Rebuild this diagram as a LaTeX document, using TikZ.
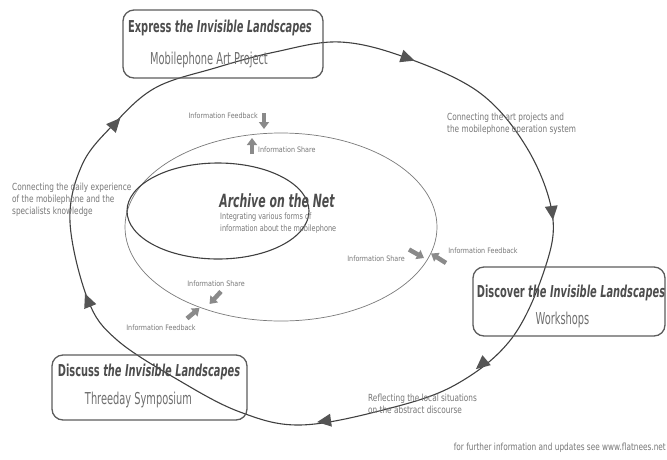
\documentclass[tikz,border=0pt]{standalone}
\usepackage{fontspec}
\setmainfont{DejaVu Sans}
\newfontfamily\titlefont{DejaVu Sans}[FakeStretch=0.6]
\newfontfamily\descfont{DejaVu Sans}[FakeStretch=0.75]
\newfontfamily\labelfont{DejaVu Sans}[FakeStretch=0.85]
\usetikzlibrary{arrows.meta}
\definecolor{boxgray}{HTML}{5C5C5C}
\definecolor{titlegray}{HTML}{4D4D4D}
\definecolor{subgray}{HTML}{6E6E6E}
\definecolor{descgray}{HTML}{767676}
\definecolor{loopgray}{HTML}{404040}
\definecolor{tipgray}{HTML}{555555}
\definecolor{midgray}{HTML}{7A7A7A}
\definecolor{arrowgray}{HTML}{8A8A8A}
\tikzset{
  box/.style={draw=boxgray, line width=1.3pt, rounded corners=11pt, inner sep=0pt},
  titletext/.style={font=\titlefont\fontsize{16.4}{18}\selectfont\bfseries, text=titlegray, inner sep=0pt},
  subtext/.style={font=\titlefont\fontsize{16.4}{18}\selectfont, text=subgray, inner sep=0pt},
  desc/.style={font=\descfont\fontsize{9.8}{12}\selectfont, text=descgray, align=left, inner sep=0pt, anchor=west},
  info/.style={font=\labelfont\fontsize{7.5}{9}\selectfont, text=descgray, inner sep=0pt},
  infoarrow/.style={draw=arrowgray, line width=4.5pt, -{Triangle[width=10pt,length=7pt]}},
  looptip/.style={fill=tipgray},
  loopline/.style={draw=loopgray, line width=1.1pt},
}
\begin{document}
\begin{tikzpicture}[x=1pt,y=-1pt]
\useasboundingbox (0,0) rectangle (667,459);

% middle ellipse
\draw[midgray, line width=0.7pt] (281,227) ellipse [x radius=156pt, y radius=94pt];
% small ellipse
\draw[loopgray, line width=1.1pt] (218,211) ellipse [x radius=91pt, y radius=48pt];

% big loop
\draw[loopline] plot[smooth cycle, tension=0.6] coordinates {
  (70,222) (82,165) (113,125) (155,88) (215,68) (275,52) (340,42) (407,58)
  (480,93) (527,148) (552,212) (546,265) (512,338) (455,385) (383,410)
  (300,425) (240,412) (180,381) (117,340) (88,300)};

% loop arrowheads
\fill[looptip, shift={(115,124)}, rotate=48] (8,0) -- (-6,6.5) -- (-6,-6.5) -- cycle;
\fill[looptip, shift={(88,301)}, rotate=112] (8,0) -- (-6,6.5) -- (-6,-6.5) -- cycle;
\fill[looptip, shift={(407,58)}, rotate=-19] (8,0) -- (-6,6.5) -- (-6,-6.5) -- cycle;
\fill[looptip, shift={(552,212)}, rotate=-83] (8,0) -- (-6,6.5) -- (-6,-6.5) -- cycle;
\fill[looptip, shift={(482,364)}, rotate=-140] (8,0) -- (-6,6.5) -- (-6,-6.5) -- cycle;
\fill[looptip, shift={(325,421)}, rotate=-172] (8,0) -- (-6,6.5) -- (-6,-6.5) -- cycle;

% boxes
\node[box, minimum width=200pt, minimum height=68pt] (express) at (223,44) {};
\node[box, minimum width=192pt, minimum height=69pt] (discover) at (569,301.5) {};
\node[box, minimum width=195pt, minimum height=65pt] (discuss) at (149.5,387.5) {};

\node[titletext] (expt) at (220,28) {Express \textit{the Invisible Landscapes}};
\node[subtext] (exps) at (209,60) {Mobilephone Art Project};
\node[titletext] (dist) at (571,293) {Discover \textit{the Invisible Landscapes}};
\node[subtext] (diss) at (562.5,320) {Workshops};
\node[titletext] (dsct) at (149,372) {Discuss \textit{the Invisible Landscapes}};
\node[subtext] (dscs) at (138.5,400) {Threeday Symposium};

% archive
\node[font=\titlefont\fontsize{18.2}{20}\selectfont\bfseries\itshape, text=titlegray, inner sep=0pt] (archive) at (277,201) {Archive on the Net};
\node[font=\descfont\fontsize{8.7}{12}\selectfont, text=descgray, align=left, inner sep=0pt, anchor=west] (archsub) at (220,223) {Integrating various forms of\\information about the mobilephone};

% descriptions
\node[desc] (dleft) at (12,200) {Connecting the daily experience\\of the mobilephone and the\\specialists knowledge};
\node[desc] (dright) at (447,124) {Connecting the art projects and\\the mobilephone operation system};
\node[desc] (dbottom) at (368,404) {Reflecting the local situations\\on the abstract discourse};
\node[desc, anchor=east] (footer) at (666,448) {for further information and updates see www.flatnees.net};

% information arrows and labels
\coordinate (tfa) at (264,113);
\coordinate (tfb) at (264,129);
\coordinate (tsa) at (252,154);
\coordinate (tsb) at (252,138);
\draw[infoarrow] (tfa) -- (tfb);
\draw[infoarrow] (tsa) -- (tsb);
\node[info, anchor=east] (itf) at (258,116) {Information Feedback};
\node[info, anchor=west] (its) at (258,150) {Information Share};

\coordinate (rsa) at (409,249.5);
\coordinate (rsb) at (424,258);
\coordinate (rfa) at (446,263);
\coordinate (rfb) at (431,253.5);
\draw[infoarrow] (rsa) -- (rsb);
\draw[infoarrow] (rfa) -- (rfb);
\node[info] (irs) at (376,259) {Information Share};
\node[info] (irf) at (483,251) {Information Feedback};

\coordinate (bsa) at (221,291.5);
\coordinate (bsb) at (209.5,304);
\coordinate (bfa) at (187,318.5);
\coordinate (bfb) at (199.5,308);
\draw[infoarrow] (bsa) -- (bsb);
\draw[infoarrow] (bfa) -- (bfb);
\node[info] (ibs) at (216,284) {Information Share};
\node[info] (ibf) at (161,328) {Information Feedback};
\end{tikzpicture}
\end{document}
